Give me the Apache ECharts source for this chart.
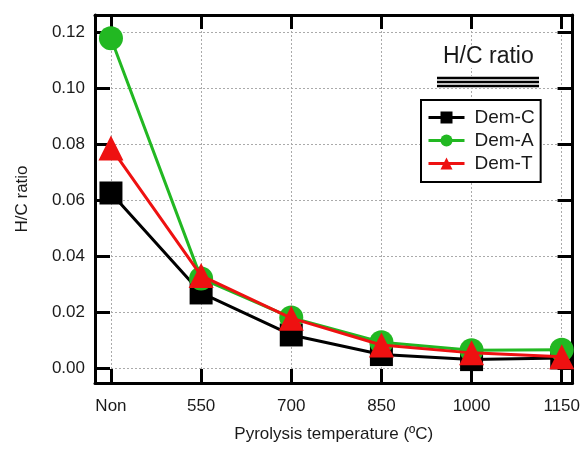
<!DOCTYPE html>
<html>
<head>
<meta charset="utf-8">
<script src="https://cdn.jsdelivr.net/npm/echarts@6/dist/echarts.min.js"></script>
<style>html,body{margin:0;padding:0;background:#fff}#c{width:583px;height:454px}</style>
</head>
<body>
<div id="c"></div>
<script>
var categories = ['Non', '550', '700', '850', '1000', '1150'];
var demC = [0.0625, 0.0268, 0.0118, 0.0048, 0.0030, 0.0036];
var demA = [0.1178, 0.0320, 0.0180, 0.0092, 0.0063, 0.0065];
var demT = [0.0786, 0.0330, 0.0178, 0.0082, 0.0054, 0.0040];
var yTicks = [0, 0.02, 0.04, 0.06, 0.08, 0.10, 0.12];
var xTicks = [0, 1, 2, 3, 4, 5];

function pairs(arr) { return arr.map(function (v, i) { return [i, v]; }); }

var FONT = 'Liberation Sans, Arial, sans-serif';
var TXT = '#1a1a1a';
var chart = echarts.init(document.getElementById('c'), null, { renderer: 'canvas' });

var frameLine = { show: true, onZero: false, lineStyle: { color: '#000', width: 3 } };
var gridDots = { show: true, lineStyle: { color: '#aaa', type: [2, 2], width: 1 } };

chart.setOption({
  animation: false,
  backgroundColor: '#fff',
  title: {
    text: 'H/C ratio',
    left: 443, top: 45, padding: 0,
    textStyle: { fontFamily: FONT, fontSize: 23, fontWeight: 'normal', color: TXT },
    backgroundColor: '#fff'
  },
  graphic: [
    { type: 'rect', shape: { x: 437, y: 76, width: 102, height: 12 }, style: { fill: '#fff' }, z: 50 },
    { type: 'line', shape: { x1: 437, y1: 78, x2: 539, y2: 78 }, style: { stroke: '#000', lineWidth: 2.5 }, z: 51 },
    { type: 'line', shape: { x1: 437, y1: 82, x2: 539, y2: 82 }, style: { stroke: '#000', lineWidth: 2.5 }, z: 51 },
    { type: 'line', shape: { x1: 437, y1: 86, x2: 539, y2: 86 }, style: { stroke: '#000', lineWidth: 2.5 }, z: 51 }
  ],
  legend: {
    left: 421, top: 100,
    orient: 'vertical',
    backgroundColor: '#fff',
    borderColor: '#000', borderWidth: 2,
    padding: [8, 6, 9, 6],
    itemWidth: 36, itemHeight: 15, itemGap: 4,
    lineStyle: { width: 3 },
    textStyle: { fontFamily: FONT, fontSize: 19, color: TXT, padding: [0, 0, 0, 5] },
    data: ['Dem-C', 'Dem-A', 'Dem-T']
  },
  grid: { left: 95, right: 9, top: 15, bottom: 71, containLabel: false },
  xAxis: [{
    type: 'value', position: 'bottom', min: -0.177, max: 5.12,
    name: 'Pyrolysis temperature (ºC)', nameLocation: 'middle', nameGap: 43,
    nameTextStyle: { fontFamily: FONT, fontSize: 17, color: TXT },
    axisLine: frameLine,
    axisTick: { show: true, inside: true, length: 14, lineStyle: { color: '#000', width: 3 }, customValues: xTicks },
    axisLabel: { customValues: xTicks, margin: 15, fontFamily: FONT, fontSize: 17, color: TXT,
      formatter: function (v) { return categories[Math.round(v)]; } },
    splitLine: gridDots
  }, {
    type: 'value', position: 'top', min: -0.177, max: 5.12,
    axisLine: frameLine,
    axisTick: { show: true, inside: true, length: 14, lineStyle: { color: '#000', width: 3 }, customValues: xTicks },
    axisLabel: { show: false },
    splitLine: { show: false }
  }],
  yAxis: [{
    type: 'value', position: 'left', min: -0.00536, max: 0.12607,
    name: 'H/C ratio', nameLocation: 'middle', nameGap: 64,
    nameTextStyle: { fontFamily: FONT, fontSize: 17, color: TXT },
    axisLine: frameLine,
    axisTick: { show: true, inside: true, length: 15, lineStyle: { color: '#000', width: 3 }, customValues: yTicks },
    axisLabel: { customValues: yTicks, margin: 10, fontFamily: FONT, fontSize: 17, color: TXT,
      formatter: function (v) { return v.toFixed(2); } },
    splitLine: gridDots
  }, {
    type: 'value', position: 'right', min: -0.00536, max: 0.12607,
    axisLine: frameLine,
    axisTick: { show: true, inside: true, length: 15, lineStyle: { color: '#000', width: 3 }, customValues: yTicks },
    axisLabel: { show: false },
    splitLine: { show: false }
  }],
  series: [{
    name: 'Dem-C', type: 'line', data: pairs(demC),
    symbol: 'rect', symbolSize: 23,
    lineStyle: { color: '#000', width: 3 }, itemStyle: { color: '#000' }, z: 3
  }, {
    name: 'Dem-A', type: 'line', data: pairs(demA),
    symbol: 'circle', symbolSize: 24,
    lineStyle: { color: '#22b822', width: 3 }, itemStyle: { color: '#22b822' }, z: 4
  }, {
    name: 'Dem-T', type: 'line', data: pairs(demT),
    symbol: 'triangle', symbolSize: 25,
    lineStyle: { color: '#ee1111', width: 3 }, itemStyle: { color: '#ee1111' }, z: 5
  }]
});
</script>
</body>
</html>
